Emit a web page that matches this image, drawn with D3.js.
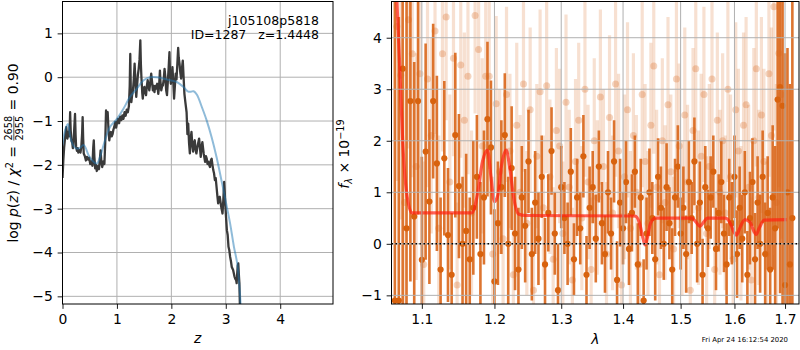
<!DOCTYPE html>
<html><head><meta charset="utf-8">
<script src="https://cdn.jsdelivr.net/npm/d3@7"></script>
<style>
body{margin:0;background:#fff}
svg{display:block;font-family:"DejaVu Sans",sans-serif}
text{white-space:pre}
</style>
</head><body>
<svg id="c" width="800" height="350"></svg>
<script>
// ---------- Left panel: log p(z) ----------
const zGrid=[0.0,0.015,0.03,0.05,0.07,0.08,0.09,0.105,0.12,0.135,
0.14,0.15,0.165,0.18,0.19,0.2,0.215,0.23,0.24,0.25,
0.265,0.28,0.29,0.31,0.33,0.345,0.36,0.37,0.38,0.39,
0.41,0.43,0.45,0.47,0.49,0.51,0.53,0.55,0.565,0.575,
0.585,0.6,0.615,0.63,0.65,0.67,0.685,0.7,0.715,0.73,
0.75,0.77,0.785,0.8,0.815,0.83,0.845,0.86,0.875,0.89,
0.905,0.92,0.935,0.95,0.97,0.985,1.0,1.02,1.04,1.06,
1.08,1.1,1.12,1.14,1.16,1.18,1.2,1.22,1.235,1.245,
1.255,1.265,1.28,1.295,1.31,1.325,1.34,1.355,1.37,1.385,
1.4,1.415,1.43,1.44,1.45,1.465,1.475,1.49,1.505,1.52,
1.535,1.55,1.565,1.58,1.595,1.61,1.63,1.645,1.66,1.675,
1.69,1.705,1.72,1.74,1.76,1.775,1.79,1.8,1.815,1.83,
1.845,1.86,1.875,1.89,1.905,1.92,1.935,1.95,1.965,1.975,
1.99,2.005,2.02,2.035,2.05,2.065,2.08,2.095,2.11,2.125,
2.135,2.15,2.165,2.18,2.195,2.21,2.225,2.24,2.26,2.28,
2.295,2.31,2.325,2.34,2.355,2.37,2.385,2.4,2.415,2.43,
2.445,2.46,2.485,2.51,2.525,2.54,2.555,2.57,2.595,2.62,
2.635,2.65,2.665,2.68,2.695,2.71,2.725,2.74,2.755,2.77,
2.785,2.8,2.815,2.83,2.845,2.86,2.875,2.89,2.915,2.94,
2.955,2.97,2.98,2.99,3.005,3.02,3.035,3.05,3.065,3.08,
3.095,3.11,3.135,3.16,3.175,3.19,3.2,3.21,3.22,3.23,
3.24,3.25,3.26,3.27];
const logPz=[-2.3,-1.9,-1.6,-1.35,-1.14,-1.3,-1.4,-1.25,-1.35,-1.05,
-0.8,-1.2,-1.45,-1.5,-1.62,-1.55,-1.2,-0.84,-1.3,-1.59,
-1.68,-1.62,-1.72,-1.66,-1.72,-1.6,-1.3,-0.91,-1.4,-1.74,
-1.8,-1.9,-1.82,-1.88,-1.84,-1.98,-1.92,-2.02,-1.6,-1.44,
-1.8,-2.08,-2.0,-2.14,-2.03,-2.1,-1.9,-1.67,-1.95,-2.05,
-1.92,-1.98,-1.5,-0.76,-0.9,-0.8,-1.2,-1.44,-1.3,-1.25,
-1.35,-1.3,-1.2,-1.14,-1.02,-1.15,-1.05,-0.95,-1.05,-0.9,
-0.98,-0.87,-0.95,-0.8,-0.88,-0.74,-0.8,-0.66,-0.2,0.53,
-0.3,-0.57,-0.4,-0.3,-0.05,0.31,-0.1,-0.45,-0.2,0.05,
0.19,0.4,0.84,0.3,0.0,-0.35,-0.49,-0.3,-0.22,-0.35,
-0.41,-0.2,-0.07,-0.2,-0.3,-0.15,0.08,-0.1,-0.3,-0.2,
-0.34,-0.2,-0.26,-0.15,-0.38,-0.2,0.15,-0.1,-0.3,-0.2,
-0.19,-0.05,0.19,0.0,-0.3,-0.41,-0.1,0.2,0.57,0.1,
-0.15,-0.05,0.23,-0.1,-0.49,-0.2,0.08,-0.05,0.3,0.67,
0.45,0.31,0.1,-0.03,0.2,0.38,0.0,-0.38,-0.6,-0.8,
-1.3,-1.06,-1.5,-1.74,-1.4,-1.25,-1.55,-1.7,-1.5,-1.44,
-1.65,-1.74,-1.55,-1.4,-1.6,-1.82,-1.6,-1.48,-1.75,-1.93,
-1.8,-1.86,-1.98,-1.93,-2.0,-2.05,-1.9,-1.86,-2.0,-2.12,
-2.2,-2.35,-2.3,-2.5,-2.7,-2.88,-2.75,-2.73,-2.95,-3.11,
-2.8,-2.39,-2.6,-2.88,-3.2,-3.49,-3.6,-3.87,-3.95,-4.1,
-4.2,-4.33,-4.4,-4.55,-4.6,-4.63,-4.7,-4.48,-4.3,-4.25,
-4.5,-4.7,-5.24,-7];
const zModel=[0,0.05,0.1,0.15,0.22,0.3,0.39,0.48,0.57,0.63,
0.69,0.78,0.87,1.0,1.12,1.24,1.36,1.49,1.61,1.73,
1.85,1.98,2.1,2.22,2.31,2.36,2.41,2.47,2.56,2.65,
2.74,2.83,2.92,3.02,3.08,3.15,3.21,3.26,3.28];
const logPzModel=[-1.55,-1.2,-1.07,-1.4,-1.6,-1.63,-1.55,-1.78,-1.93,-1.97,
-1.82,-1.44,-1.14,-0.95,-0.72,-0.45,-0.27,-0.07,0.0,0.0,
-0.03,-0.07,-0.11,-0.22,-0.33,-0.33,-0.32,-0.4,-0.68,-0.99,
-1.37,-1.82,-2.35,-2.96,-3.34,-3.87,-4.25,-4.93,-5.4];
const zTicks=[0,1,2,3,4];
const pzTicks=[-5,-4,-3,-2,-1,0,1];
const titleLines=["j105108p5818","ID=1287   z=1.4448"];

// ---------- Right panel: spectrum ----------
// wavelengths in Angstrom
const wave1=[10650,10700,10750,10800,10850,10900,10950,11000,11050,11100,
11150,11200,11250,11300,11350,11400,11450,11500,11550,11600,
11650,11700,11750,11800,11850,11900,11950,12000,12050,12100,
12150,12200,12250,12300,12350,12400,12450,12500,12550,12600,
12650,12700,12750,12800,12850,12900,12950,13000,13050,13100,
13150,13200,13250,13300,13350,13400,13450,13500,13550,13600,
13650,13700,13750,13800,13850,13900,13950,14000,14050,14100,
14150,14200,14250,14300,14350,14400,14450,14500,14550,14600,
14650,14700,14750,14800,14850,14900,14950,15000,15050,15100,
15150,15200,15250,15300,15350,15400,15450,15500,15550,15600,
15650,15700,15750,15800,15850,15900,15950,16000,16050,16100,
16150,16200,16250,16300,16350,16400,16450,16500,16550,16600,
16650,16700,16750,16800,16850,16900,16950,17000,17050,17100,
17150];
const flux1=[-1.10,-1.10,3.40,0.30,2.77,0.53,2.77,-0.31,1.79,0.82,
2.77,1.56,-0.50,1.66,0.17,-0.60,2.11,1.12,0.00,0.25,
-0.30,0.70,1.30,-0.20,0.90,2.42,1.87,-0.73,0.40,1.10,
2.11,0.00,1.47,0.20,-0.50,0.90,0.35,1.60,-0.20,0.80,
0.10,1.30,-0.40,0.60,1.80,0.20,-0.90,1.10,0.50,0.00,
1.40,-0.30,0.90,0.30,1.70,-0.60,0.70,1.10,0.10,1.50,
0.40,-0.20,1.00,0.20,1.60,-0.70,0.80,0.30,1.20,-0.10,
0.60,1.40,-0.40,0.90,-1.10,0.20,1.00,0.50,-0.30,1.30,
0.70,0.00,1.10,0.40,-0.50,0.90,1.50,0.20,0.70,-0.20,
1.20,0.50,1.60,0.00,0.80,-0.60,1.10,0.30,0.90,1.40,
-0.10,0.60,1.20,0.20,-0.40,0.90,0.40,1.30,-0.20,0.70,
0.10,1.00,-0.60,0.50,1.20,-0.30,0.80,0.00,1.30,-0.20,
0.60,-0.50,0.90,0.30,2.80,3.04,2.68,-0.80,1.00,-0.40,
0.50];
const err1=[6.0,5.5,5.0,4.5,3.5,3.0,2.2,2.0,2.1,1.6,
1.5,1.7,1.4,1.5,1.3,1.2,1.6,1.4,1.3,1.5,
1.2,1.3,1.2,1.4,1.3,1.5,1.3,1.4,1.2,1.3,
1.2,1.3,1.2,1.1,1.2,1.0,1.1,1.0,0.9,1.0,
0.9,0.8,0.9,0.75,0.85,0.8,0.9,0.8,0.7,0.8,
0.85,0.7,0.75,0.7,0.8,0.75,0.8,0.7,0.85,0.7,
0.8,0.75,0.8,0.7,0.8,0.75,0.85,0.7,0.8,0.7,
0.75,0.7,0.8,0.75,0.8,0.7,0.85,0.7,0.8,0.75,
0.8,0.7,0.85,0.7,0.8,0.75,0.8,0.7,0.8,0.75,
0.8,0.7,0.85,0.75,0.8,0.7,0.8,0.75,0.8,0.7,
0.8,0.75,0.8,0.75,0.8,0.75,0.8,0.8,0.85,0.8,
0.85,0.8,0.85,0.9,0.85,0.9,0.9,0.95,0.9,1.0,
1.1,1.2,1.4,1.6,2.5,4.0,4.5,4.5,2.8,3.5,
5.0];
const wave2=[10675,10725,10775,10825,10875,10925,10975,11025,11075,11125,
11175,11225,11275,11325,11375,11425,11475,11525,11575,11625,
11675,11725,11775,11825,11875,11925,11975,12025,12075,12125,
12175,12225,12275,12325,12375,12425,12475,12525,12575,12625,
12675,12725,12775,12825,12875,12925,12975,13025,13075,13125,
13175,13225,13275,13325,13375,13425,13475,13525,13575,13625,
13675,13725,13775,13825,13875,13925,13975,14025,14075,14125,
14175,14225,14275,14325,14375,14425,14475,14525,14575,14625,
14675,14725,14775,14825,14875,14925,14975,15025,15075,15125,
15175,15225,15275,15325,15375,15425,15475,15525,15575,15625,
15675,15725,15775,15825,15875,15925,15975,16025,16075,16125,
16175,16225,16275,16325,16375,16425,16475,16525,16575,16625,
16675,16725,16775,16825,16875,16925];
const flux2=[4.22,3.27,0.80,4.35,3.69,1.50,3.30,-0.40,3.20,2.10,
4.13,0.30,3.69,4.40,1.20,3.60,-0.80,3.47,2.40,3.25,
0.60,4.43,3.77,1.90,3.25,3.25,-0.20,2.72,1.40,0.10,
2.90,1.80,-0.60,2.30,1.00,3.10,0.40,2.60,-0.90,1.70,
2.95,0.70,3.07,1.30,-0.30,2.20,1.90,0.20,2.75,1.10,
-0.70,1.60,2.40,0.50,3.00,1.20,-0.50,2.00,0.90,2.85,
1.50,-0.20,2.45,0.60,3.10,1.80,-0.80,1.30,2.60,0.30,
2.10,1.00,-0.40,2.90,1.60,0.40,2.30,3.45,1.10,-0.60,
2.00,0.80,2.70,1.40,-0.10,3.20,1.90,0.50,2.50,1.20,
-0.90,2.20,3.40,0.70,1.70,2.90,0.20,1.50,3.20,-0.50,
2.40,1.00,2.00,0.60,3.00,1.30,-0.30,2.60,1.80,0.40,
2.30,2.70,1.10,-0.70,2.00,3.40,0.90,2.50,1.60,-0.20,
3.30,2.10,4.60,0.80,3.70,2.90];
const err2=[3.0,2.8,2.6,2.5,2.4,2.2,2.3,2.0,2.1,1.9,
2.0,1.8,1.9,2.0,1.7,1.9,1.6,1.8,1.7,1.9,
1.6,1.9,1.8,1.7,1.6,1.8,1.5,1.7,1.6,1.5,
1.7,1.5,1.4,1.6,1.5,1.7,1.4,1.6,1.5,1.4,
1.6,1.4,1.7,1.5,1.4,1.6,1.5,1.4,1.7,1.5,
1.4,1.6,1.5,1.4,1.7,1.5,1.4,1.6,1.5,1.7,
1.5,1.4,1.6,1.5,1.8,1.5,1.4,1.6,1.7,1.5,
1.6,1.5,1.4,1.8,1.5,1.4,1.6,1.7,1.5,1.4,
1.6,1.5,1.7,1.5,1.4,1.8,1.6,1.5,1.7,1.5,
1.4,1.6,1.8,1.5,1.6,1.7,1.5,1.6,1.8,1.5,
1.7,1.6,1.7,1.5,1.8,1.6,1.5,1.7,1.6,1.5,
1.8,1.7,1.6,1.6,1.8,1.9,1.7,1.9,1.8,1.8,
2.0,2.1,2.4,2.3,2.6,2.8];
const waveModel=[1.064,1.0712,1.075,1.08,1.087,1.168,1.175,1.183,1.19,1.195,
1.2,1.205,1.21,1.217,1.222,1.228,1.235,1.245,1.42,1.428,
1.434,1.4375,1.441,1.447,1.455,1.52,1.528,1.535,1.542,1.549,
1.583,1.592,1.598,1.604,1.61,1.62,1.63,1.637,1.642,1.648,
1.658,1.703];
const fluxModel=[6,3.44,2.0,1.0,0.6,0.6,0.9,1.6,1.82,1.3,
0.82,0.95,1.5,1.82,1.5,0.9,0.58,0.55,0.54,0.4,
0.1,-0.02,0.1,0.4,0.5,0.5,0.42,0.34,0.42,0.5,
0.5,0.4,0.25,0.17,0.3,0.47,0.42,0.26,0.18,0.3,
0.46,0.47];
const lamTicks=[1.1,1.2,1.3,1.4,1.5,1.6,1.7];
const fluxTicks=[-1,0,1,2,3,4];
const timestamp="Fri Apr 24 16:12:54 2020";

// ---------- drawing ----------
const svg=d3.select("#c");
const FS=13.9, TL=4.86, TP=4.86;
const GRID="#b0b0b0";
const ORANGE="#d9661a";

function frame(g,x0,x1,y0,y1){
  g.append("rect").attr("x",x0).attr("y",y0).attr("width",x1-x0).attr("height",y1-y0)
   .attr("fill","none").attr("stroke","#000").attr("stroke-width",1);
}
function styleAxis(sel){
  sel.select(".domain").remove();
  sel.selectAll(".tick line").attr("stroke","#000").attr("stroke-width",0.9);
  sel.selectAll(".tick text").attr("font-size",FS).attr("fill","#000")
     .attr("font-family","DejaVu Sans");
}

// Left panel
const L={x0:62.5,x1:333,y0:1.5,y1:304};
const xL=d3.scaleLinear().domain([0,4.97]).range([L.x0,L.x1]);
const yL=d3.scaleLinear().domain([-5.175,1.727]).range([L.y1,L.y0]);
const gL=svg.append("g");
svg.append("clipPath").attr("id","clipL").append("rect")
  .attr("x",L.x0).attr("y",L.y0).attr("width",L.x1-L.x0).attr("height",L.y1-L.y0);
const gridL=gL.append("g");
gridL.selectAll("line.v").data(zTicks).join("line")
  .attr("x1",d=>xL(d)).attr("x2",d=>xL(d)).attr("y1",L.y0).attr("y2",L.y1)
  .attr("stroke",GRID).attr("stroke-width",1);
gridL.selectAll("line.h").data(pzTicks).join("line")
  .attr("y1",d=>yL(d)).attr("y2",d=>yL(d)).attr("x1",L.x0).attr("x2",L.x1)
  .attr("stroke",GRID).attr("stroke-width",1);
const dL=gL.append("g").attr("clip-path","url(#clipL)");
const lineL=d3.line().x(d=>xL(d[0])).y(d=>yL(d[1]));
dL.append("path").datum(d3.zip(zGrid,logPz)).attr("d",lineL)
  .attr("fill","none").attr("stroke","#3a3a3a").attr("stroke-width",2.3).attr("stroke-linejoin","round");
dL.append("path").datum(d3.zip(zModel,logPzModel)).attr("d",lineL.curve(d3.curveCatmullRom))
  .attr("fill","none").attr("stroke","#1f77b4").attr("stroke-opacity",0.5).attr("stroke-width",2);
frame(gL,L.x0,L.x1,L.y0,L.y1);
const axLB=gL.append("g").attr("transform",`translate(0,${L.y1})`)
  .call(d3.axisBottom(xL).tickValues(zTicks).tickFormat(d3.format("d")).tickSize(TL).tickPadding(TP+0.6));
styleAxis(axLB);
const axLL=gL.append("g").attr("transform",`translate(${L.x0},0)`)
  .call(d3.axisLeft(yL).tickValues(pzTicks).tickFormat(d3.format("d")).tickSize(TL).tickPadding(TP));
styleAxis(axLL);
titleLines.forEach((t,i)=>{
  gL.append("text").attr("x",319).attr("y",24.5+i*14).attr("text-anchor","end")
    .attr("font-size",12.5).text(t);
});
svg.append("text").attr("x",(L.x0+L.x1)/2).attr("y",343).attr("text-anchor","middle")
  .attr("font-size",FS).attr("font-style","italic").text("z");

// Right panel
const R={x0:391.5,x1:799,y0:1.5,y1:304};
const xR=d3.scaleLog().domain([1.0607,1.7287]).range([R.x0,R.x1]);
const yR=d3.scaleLinear().domain([-1.168,4.703]).range([R.y1,R.y0]);
const gR=svg.append("g");
svg.append("clipPath").attr("id","clipR").append("rect")
  .attr("x",R.x0).attr("y",R.y0).attr("width",R.x1-R.x0).attr("height",R.y1-R.y0);
const dR=gR.append("g").attr("clip-path","url(#clipR)");
const spec2=d3.range(wave2.length).map(i=>({w:wave2[i]/1e4,f:flux2[i],e:err2[i]}));
const spec1=d3.range(wave1.length).map(i=>({w:wave1[i]/1e4,f:flux1[i],e:err1[i]}));
// light spectrum
dR.append("g").selectAll("line").data(spec2).join("line")
  .attr("x1",d=>xR(d.w)).attr("x2",d=>xR(d.w))
  .attr("y1",d=>yR(d.f-d.e)).attr("y2",d=>yR(d.f+d.e))
  .attr("stroke",ORANGE).attr("stroke-opacity",0.2).attr("stroke-width",3.2);
dR.append("g").selectAll("circle").data(spec2).join("circle")
  .attr("cx",d=>xR(d.w)).attr("cy",d=>yR(d.f)).attr("r",3.5)
  .attr("fill",ORANGE).attr("fill-opacity",0.28);
// dark spectrum
dR.append("g").selectAll("line").data(spec1).join("line")
  .attr("x1",d=>xR(d.w)).attr("x2",d=>xR(d.w))
  .attr("y1",d=>yR(d.f-d.e)).attr("y2",d=>yR(d.f+d.e))
  .attr("stroke",ORANGE).attr("stroke-opacity",0.9).attr("stroke-width",2.6);
dR.append("g").selectAll("circle").data(spec1).join("circle")
  .attr("cx",d=>xR(d.w)).attr("cy",d=>yR(d.f)).attr("r",3.1)
  .attr("fill","#d8620e");
// grid
const gridR=gR.append("g");
gridR.selectAll("line.v").data(lamTicks).join("line")
  .attr("x1",d=>xR(d)).attr("x2",d=>xR(d)).attr("y1",R.y0).attr("y2",R.y1)
  .attr("stroke",GRID).attr("stroke-width",1);
gridR.selectAll("line.h").data(fluxTicks).join("line")
  .attr("y1",d=>yR(d)).attr("y2",d=>yR(d)).attr("x1",R.x0).attr("x2",R.x1)
  .attr("stroke",GRID).attr("stroke-width",1);
// model
dR.append("path").datum(d3.zip(waveModel,fluxModel))
  .attr("d",d3.line().x(d=>xR(d[0])).y(d=>yR(d[1])).curve(d3.curveMonotoneX))
  .attr("fill","none").attr("stroke","#ff2010").attr("stroke-opacity",0.7).attr("stroke-width",3.2);
// zero line
gR.append("line").attr("x1",R.x0).attr("x2",R.x1).attr("y1",yR(0)).attr("y2",yR(0))
  .attr("stroke","#000").attr("stroke-width",1.5).attr("stroke-dasharray","1.5,2.5");
frame(gR,R.x0,R.x1,R.y0,R.y1);
const axRB=gR.append("g").attr("transform",`translate(0,${R.y1})`)
  .call(d3.axisBottom(xR).tickValues(lamTicks).tickFormat(d3.format(".1f")).tickSize(TL).tickPadding(TP+0.6));
styleAxis(axRB);
const axRL=gR.append("g").attr("transform",`translate(${R.x0},0)`)
  .call(d3.axisLeft(yR).tickValues(fluxTicks).tickFormat(d3.format("d")).tickSize(TL).tickPadding(TP));
styleAxis(axRL);
svg.append("text").attr("x",(R.x0+R.x1)/2).attr("y",344).attr("text-anchor","middle")
  .attr("font-size",FS).attr("font-style","italic").text("λ");
svg.append("text").attr("x",788).attr("y",341.5).attr("text-anchor","end")
  .attr("font-size",6.9).text(timestamp);

// rotated rich labels
function richLabel(bx,cy,parts){
  const g=svg.append("g");
  let cx=0;
  parts.forEach(p=>{
    if(p.frac){
      const fs=FS*0.7;
      const n=g.append("text").attr("font-size",fs).attr("y",-FS*0.42).text(p.frac[0]);
      const d=g.append("text").attr("font-size",fs).attr("y",FS*0.36).text(p.frac[1]);
      const wn=n.node().getComputedTextLength(), wd=d.node().getComputedTextLength();
      const w=Math.max(wn,wd);
      n.attr("x",cx+1+(w-wn)/2); d.attr("x",cx+1+(w-wd)/2);
      g.append("line").attr("x1",cx+1).attr("x2",cx+1+w).attr("y1",-FS*0.3).attr("y2",-FS*0.3)
        .attr("stroke","#000").attr("stroke-width",0.7);
      cx+=w+2;
    } else {
      const t=g.append("text").attr("x",cx).attr("y",p.dy||0)
        .attr("font-size",p.size?FS*p.size:FS).attr("font-style",p.it?"italic":null).text(p.t);
      cx+=t.node().getComputedTextLength();
    }
  });
  g.attr("transform",`translate(${bx},${cy}) rotate(-90) translate(${-cx/2},0)`);
}
richLabel(18,153,[{t:"log "},{t:"p",it:1},{t:"("},{t:"z",it:1},{t:") / "},{t:"χ",it:1},
  {t:"2",size:0.7,dy:-5.5},{t:" = "},{frac:["2658","2955"]},{t:" = 0.90"}]);
richLabel(349,154,[{t:"f",it:1},{t:"λ",it:1,size:0.7,dy:3},{t:" × 10"},{t:"−19",size:0.7,dy:-5.5}]);
</script>
</body></html>
